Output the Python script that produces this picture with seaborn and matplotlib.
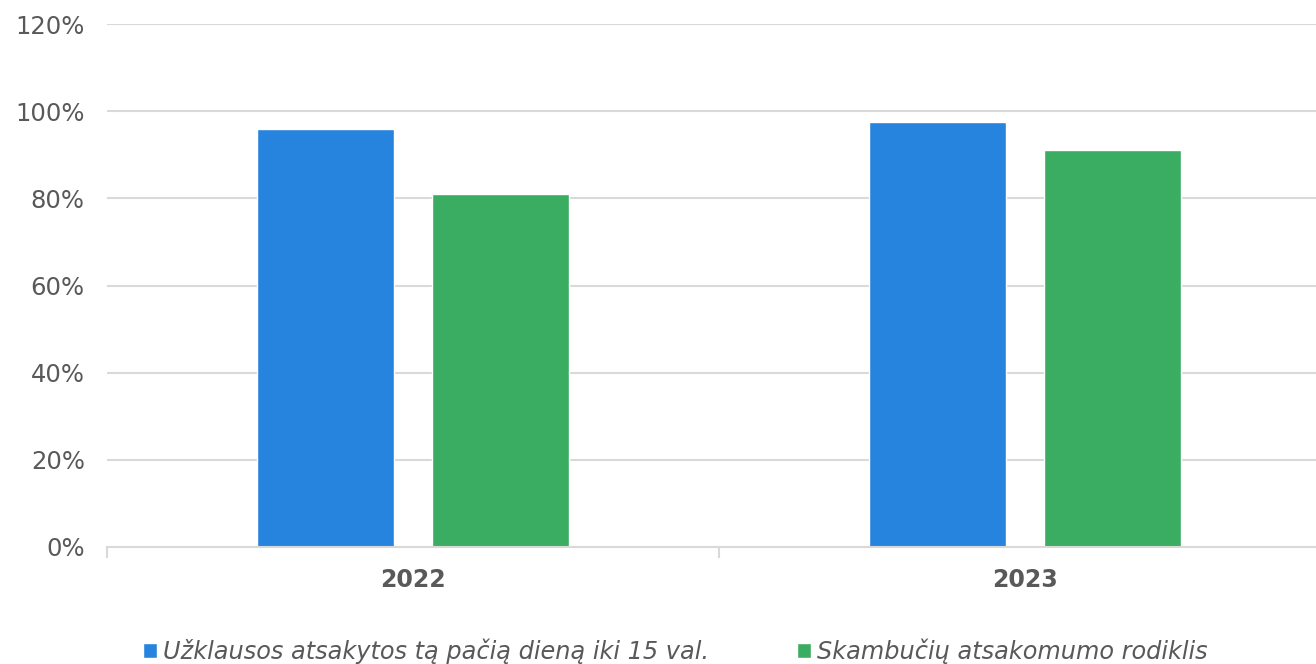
import matplotlib
matplotlib.use("Agg")
import matplotlib.pyplot as plt
import seaborn as sns
import pandas as pd

years = ["2022", "2023"]
series_names = ["Užklausos atsakytos tą pačią dieną iki 15 val.", "Skambučių atsakomumo rodiklis"]
series_a = [96, 97.5]
series_b = [81, 91]
y_ticks = [0, 20, 40, 60, 80, 100, 120]

colors = ["#2784DE", "#3BAD62"]
text_color = "#595959"
grid_color = "#d9d9d9"

df = pd.DataFrame({
    "year": years * 2,
    "value": series_a + series_b,
    "series": [series_names[0]] * len(years) + [series_names[1]] * len(years),
})

sns.set_theme(style="white")
plt.rcParams['font.family'] = ['DejaVu Sans']

fig = plt.figure(figsize=(13.16, 6.64), dpi=100)
ax = fig.add_axes([107 / 1316, 117 / 664, 1 - 107 / 1316, (547 - 24) / 664])

sns.barplot(data=df, x="year", y="value", hue="series", palette=colors,
            width=0.569, gap=0.2126, ax=ax, saturation=1, legend=True)

ax.set_ylim(0, 120)
ax.set_yticks(y_ticks)
ax.set_yticklabels([f"{t}%" for t in y_ticks])
ax.yaxis.grid(True, color=grid_color, linewidth=1.5)
ax.set_axisbelow(True)
ax.set_xlabel("")
ax.set_ylabel("")

for s in ["left", "right", "top"]:
    ax.spines[s].set_visible(False)
ax.spines["bottom"].set_color(grid_color)
ax.spines["bottom"].set_linewidth(1.5)

ax.tick_params(axis="y", length=0, pad=16, labelsize=17.5, labelcolor=text_color)
ax.tick_params(axis="x", which="major", length=0, pad=15, labelsize=17, labelcolor=text_color)
for lbl in ax.get_xticklabels():
    lbl.set_fontweight("bold")
ax.set_xticks([-0.5, 0.5], minor=True)
ax.tick_params(axis="x", which="minor", bottom=True, length=8, width=1.5,
               color=grid_color, direction="out")
ax.set_xlim(-0.5, -0.5 + (1316 - 107) / 612)

handles, labels = ax.get_legend_handles_labels()
ax.get_legend().remove()
leg = fig.legend(handles, labels, loc="center", bbox_to_anchor=(0.513, 1 - 651 / 664),
                 ncol=2, frameon=False, handlelength=0.6, handleheight=0.6,
                 handletextpad=0.25, columnspacing=3.65,
                 prop={"size": 17.3, "style": "italic"})
for t in leg.get_texts():
    t.set_color(text_color)

fig.savefig("out.png", dpi=100)
